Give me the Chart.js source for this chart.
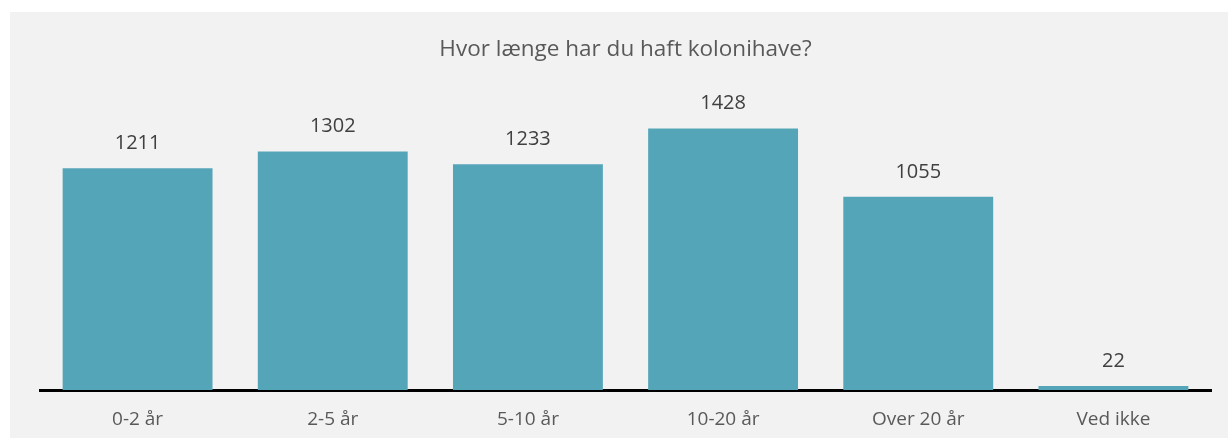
<!DOCTYPE html>
<html lang="da">
<head>
<meta charset="UTF-8">
<title>Hvor længe har du haft kolonihave?</title>
<style>
    body { margin: 0; background: #fff; }
    canvas { display: block; }
</style>
<script src="https://cdn.jsdelivr.net/npm/chart.js"></script>
</head>
<body>
<canvas id="chart" width="1228" height="438"></canvas>
<script>
    const categories = ['0-2 år', '2-5 år', '5-10 år', '10-20 år', 'Over 20 år', 'Ved ikke'];
    const counts = [1211, 1302, 1233, 1428, 1055, 22];
    const yMax = 1600;

    // grå baggrund bag hele diagrammet
    const bgPlugin = {
        id: 'bg',
        beforeDraw(chart) {
            const ctx = chart.ctx;
            ctx.save();
            ctx.fillStyle = '#f2f2f2';
            ctx.fillRect(10, 12, chart.width - 10, chart.height - 12);
            ctx.restore();
        }
    };

    // tal over søjlerne
    const valueLabels = {
        id: 'valueLabels',
        afterDraw(chart) {
            const ctx = chart.ctx;
            const meta = chart.getDatasetMeta(0);
            ctx.save();
            ctx.font = '20px "Open Sans"';
            ctx.fillStyle = '#404040';
            ctx.textAlign = 'center';
            ctx.textBaseline = 'middle';
            meta.data.forEach((bar, i) => {
                ctx.fillText(counts[i], bar.x, bar.y - 25);
            });
            ctx.restore();
        }
    };

    new Chart(document.getElementById('chart'), {
        type: 'bar',
        data: {
            labels: categories,
            datasets: [{
                data: counts,
                backgroundColor: '#54a5b8',
                borderWidth: 0,
                categoryPercentage: 1,
                barPercentage: 0.768
            }]
        },
        options: {
            responsive: false,
            animation: false,
            layout: { padding: { left: 40, right: 17, top: 0, bottom: 0 } },
            plugins: {
                legend: { display: false },
                tooltip: { enabled: false },
                title: {
                    display: true,
                    text: 'Hvor længe har du haft kolonihave?',
                    color: '#595959',
                    font: { family: 'Open Sans', size: 22.5, weight: 'normal', lineHeight: 1.2 },
                    padding: { top: 36, bottom: 34 }
                }
            },
            scales: {
                x: {
                    z: 1,
                    grid: { display: false, drawTicks: false },
                    border: { display: true, color: '#000', width: 3 },
                    ticks: {
                        color: '#595959',
                        font: { family: 'Open Sans', size: 19 },
                        padding: 18,
                        maxRotation: 0
                    },
                    afterFit(scale) { scale.height = 48; }
                },
                y: {
                    display: false,
                    min: 0,
                    max: yMax
                }
            }
        },
        plugins: [bgPlugin, valueLabels]
    });
</script>
</body>
</html>
